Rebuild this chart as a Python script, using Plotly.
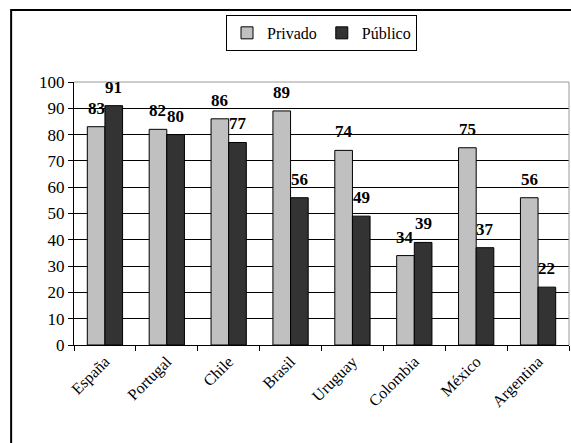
import plotly.graph_objects as go

categories = ["España", "Portugal", "Chile", "Brasil", "Uruguay", "Colombia", "México", "Argentina"]
privado = [83, 82, 86, 89, 74, 34, 75, 56]
publico = [91, 80, 77, 56, 49, 39, 37, 22]
series_names = ["Privado", "Público"]

FONT = "Liberation Serif, Times New Roman, serif"
BARGAP = 0.43

fig = go.Figure()
fig.add_trace(go.Bar(
    x=categories, y=privado, name=series_names[0],
    marker=dict(color="#C0C0C0", line=dict(color="black", width=1)),
))
fig.add_trace(go.Bar(
    x=categories, y=publico, name=series_names[1],
    marker=dict(color="#333333", line=dict(color="black", width=1)),
))

# value labels above each bar, a little higher than plotly's default outside text
plot_w = 571 - 74 - 2
bar_w = plot_w / len(categories) * (1 - BARGAP) / 2
annotations = []
for vals, sign in ((privado, -1), (publico, 1)):
    for c, v in zip(categories, vals):
        annotations.append(dict(
            x=c, y=v, xref="x", yref="y", text=f"<b>{v}</b>", showarrow=False,
            xanchor="center", yanchor="bottom", xshift=sign * bar_w / 2, yshift=7,
            font=dict(family=FONT, size=17, color="black"),
        ))

fig.update_layout(
    width=571, height=443,
    margin=dict(l=74, r=2, t=82, b=98, autoexpand=False),
    paper_bgcolor="white", plot_bgcolor="white",
    font=dict(family=FONT, size=14, color="black"),
    barmode="group", bargap=BARGAP, bargroupgap=0,
    showlegend=True,
    legend=dict(
        orientation="h", x=0.5, xanchor="center", y=1.255, yanchor="top",
        bordercolor="black", borderwidth=1, bgcolor="white",
        font=dict(family=FONT, size=16), itemwidth=30,
        tracegroupgap=0,
    ),
    xaxis=dict(
        showline=True, linecolor="black", linewidth=1,
        ticks="outside", tickson="boundaries", ticklen=5, tickcolor="black",
        tickangle=-45, tickfont=dict(family=FONT, size=16),
        showgrid=False, automargin=False,
    ),
    yaxis=dict(
        range=[0, 100], dtick=10, showline=True, linecolor="black", linewidth=1,
        ticks="outside", ticklen=5, tickcolor="black",
        showgrid=True, gridcolor="black", gridwidth=1,
        tickfont=dict(family=FONT, size=17), zeroline=False, automargin=False,
    ),
    annotations=annotations,
    shapes=[
        dict(type="rect", xref="paper", yref="paper", x0=-0.127, x1=1.2, y0=-0.6, y1=1.274,
             line=dict(color="black", width=2), fillcolor="rgba(0,0,0,0)", layer="above"),
        dict(type="line", xref="paper", yref="paper", x0=0, x1=1, y0=1, y1=1,
             line=dict(color="#999999", width=1)),
        dict(type="line", xref="paper", yref="paper", x0=1, x1=1, y0=0, y1=1,
             line=dict(color="#999999", width=1)),
    ],
)

fig.write_html(
    "out.html",
    config={"displayModeBar": False},
    post_script="document.body.style.margin='0';document.body.style.overflow='hidden';",
)
